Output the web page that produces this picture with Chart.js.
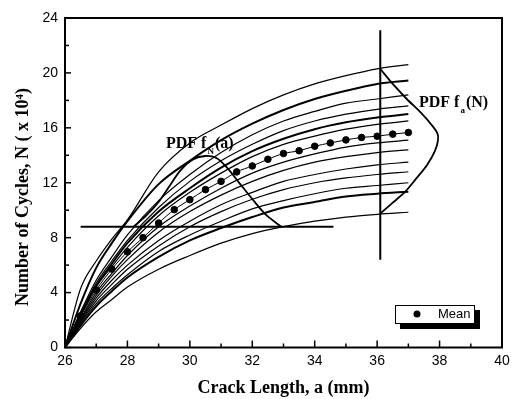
<!DOCTYPE html>
<html>
<head>
<meta charset="utf-8">
<script src="https://cdn.jsdelivr.net/npm/chart.js@4/dist/chart.umd.min.js"></script>
<style>
html,body{margin:0;padding:0;background:#fff;}
#wrap{width:516px;height:399px;}
</style>
</head>
<body>
<div id="wrap"><canvas id="c" width="516" height="399"></canvas></div>
<script>
// crack length grid (mm) shared by the individual sample curves
const xs = [26, 26.5, 27, 27.5, 28, 29, 30, 31, 32, 33, 34, 35, 36, 37];
// number of cycles (x 10^4) for each sample curve
const curveA = [0, 4.3, 6.3, 7.9, 9.3, 12.8, 14.9, 16.2, 17.4, 18.4, 19.2, 19.8, 20.3, 20.6];
const curveB = [0, 3.2, 5.8, 7.6, 9.2, 11.9, 13.6, 15.1, 16.3, 17.3, 18.1, 18.7, 19.2, 19.45];
const curveC = [0, 2.6, 4.9, 6.6, 8.2, 10.7, 12.6, 14.2, 15.5, 16.5, 17.2, 17.8, 18.1, 18.4];
const curveD = [0, 2.5, 4.7, 6.3, 7.8, 10.2, 12.1, 13.6, 14.8, 15.8, 16.5, 17.0, 17.35, 17.6];
const curveE = [0, 2.4, 4.5, 6.1, 7.6, 9.9, 11.6, 13.1, 14.3, 15.2, 15.9, 16.4, 16.75, 17.0];
const curveF = [0, 2.3, 4.4, 5.9, 7.3, 9.6, 11.3, 12.7, 13.9, 14.8, 15.4, 15.9, 16.25, 16.5];
const curveG = [0, 2.1, 4.0, 5.4, 6.7, 8.8, 10.3, 11.6, 12.7, 13.5, 14.1, 14.6, 14.9, 15.1];
const curveH = [0, 2.0, 3.8, 5.2, 6.4, 8.4, 9.9, 11.1, 12.1, 12.9, 13.5, 13.9, 14.2, 14.4];
const curveI = [0, 1.9, 3.6, 4.9, 6.0, 7.8, 9.2, 10.4, 11.3, 12.1, 12.6, 13.0, 13.3, 13.5];
const curveJ = [0, 1.8, 3.4, 4.6, 5.7, 7.4, 8.8, 9.9, 10.8, 11.5, 12.0, 12.35, 12.6, 12.8];
const curveK = [0, 1.7, 3.2, 4.3, 5.3, 7.0, 8.2, 9.2, 10.1, 10.7, 11.2, 11.6, 11.8, 12.0];
const curveL = [0, 1.6, 3.0, 4.1, 5.1, 6.6, 7.8, 8.7, 9.5, 10.2, 10.6, 11.0, 11.2, 11.35];
const curveM = [0, 1.4, 2.6, 3.5, 4.4, 5.7, 6.7, 7.6, 8.3, 8.8, 9.2, 9.5, 9.7, 9.85];
const thickCurves = ['B', 'E', 'L'];

// mean curve
const meanX = [26.5, 27, 27.5, 28, 28.5, 29, 29.5, 30, 30.5, 31, 31.5, 32, 32.5, 33, 33.5, 34, 34.5, 35, 35.5, 36, 36.5, 37];
const meanY = [2.3, 4.18, 5.71, 6.97, 8.0, 9.07, 10.04, 10.77, 11.5, 12.1, 12.79, 13.22, 13.71, 14.13, 14.33, 14.66, 14.9, 15.12, 15.3, 15.39, 15.54, 15.66];

// PDF f_a(N) drawn sideways at a = 36.1
const pdfAx = [36.1, 36.5, 36.95, 37.4, 37.75, 37.93, 37.95, 37.85, 37.6, 37.25, 36.9, 36.5, 36.1];
const pdfAy = [20.3, 19.2, 18.1, 17.1, 16.2, 15.6, 15.1, 14.3, 13.3, 12.3, 11.35, 10.55, 9.76];
const vLineX = [36.1, 36.1];
const vLineY = [6.4, 23.1];

// PDF f_N(a) drawn above N = 8.8
const pdfNx = [28.2, 28.6, 29.0, 29.3, 29.7, 30.1, 30.5, 30.85, 31.17, 31.6, 32.03, 32.45, 32.93];
const pdfNy = [8.8, 9.6, 10.6, 11.6, 12.9, 13.7, 13.95, 13.8, 13.15, 11.94, 10.73, 9.64, 8.8];
const hLineX = [26.5, 34.6];
const hLineY = [8.8, 8.8];

// axis ticks
const xMin = 26, xMax = 40, xStep = 2, xMinorStep = 1;
const yMin = 0, yMax = 24, yStep = 4, yMinorStep = 2;

const curves = {A: curveA, B: curveB, C: curveC, D: curveD, E: curveE, F: curveF, G: curveG,
  H: curveH, I: curveI, J: curveJ, K: curveK, L: curveL, M: curveM};

const pts = (X, Y) => X.map((x, i) => ({x: x, y: Y[i]}));

const datasets = [];
Object.keys(curves).forEach(k => {
  datasets.push({
    label: 'sample ' + k,
    data: pts(xs, curves[k]),
    showLine: true, borderColor: '#000', borderWidth: thickCurves.includes(k) ? 2 : 1.2,
    pointRadius: 0, cubicInterpolationMode: 'monotone', fill: false
  });
});
datasets.push({label: 'Mean', data: pts(meanX, meanY), showLine: true, borderColor: '#000',
  borderWidth: 1, pointRadius: 3.3, pointBackgroundColor: '#000', pointBorderColor: '#000',
  cubicInterpolationMode: 'monotone'});
datasets.push({label: 'pdfA', data: pts(pdfAx, pdfAy), showLine: true, borderColor: '#000',
  borderWidth: 1.8, pointRadius: 0, tension: 0.3});
datasets.push({label: 'vline', data: pts(vLineX, vLineY), showLine: true, borderColor: '#000',
  borderWidth: 2, pointRadius: 0});
datasets.push({label: 'pdfN', data: pts(pdfNx, pdfNy), showLine: true, borderColor: '#000',
  borderWidth: 1.8, pointRadius: 0, tension: 0.3});
datasets.push({label: 'hline', data: pts(hLineX, hLineY), showLine: true, borderColor: '#000',
  borderWidth: 2, pointRadius: 0});

const SERIF = '"Liberation Serif", "Times New Roman", serif';
const SANS = '"Liberation Sans", Arial, sans-serif';

const decor = {
  id: 'decor',
  afterDraw(chart) {
    const ctx = chart.ctx, a = chart.chartArea;
    const sx = chart.scales.x, sy = chart.scales.y;
    ctx.save();
    // frame
    ctx.strokeStyle = '#000'; ctx.lineWidth = 2;
    ctx.strokeRect(a.left, a.top, a.right - a.left, a.bottom - a.top);
    // inward ticks
    ctx.lineWidth = 1.5;
    for (let v = xMin; v <= xMax; v += xMinorStep) {
      const p = sx.getPixelForValue(v);
      const len = (v - xMin) % xStep === 0 ? 7 : 4;
      ctx.beginPath(); ctx.moveTo(p, a.bottom); ctx.lineTo(p, a.bottom - len); ctx.stroke();
    }
    for (let v = yMin; v <= yMax; v += yMinorStep) {
      const p = sy.getPixelForValue(v);
      const len = (v - yMin) % yStep === 0 ? 6 : 4;
      ctx.beginPath(); ctx.moveTo(a.left, p); ctx.lineTo(a.left + len, p); ctx.stroke();
    }
    // y-axis title
    ctx.fillStyle = '#000';
    ctx.save();
    ctx.translate(28, 197);
    ctx.rotate(-Math.PI / 2);
    ctx.font = 'bold 18px ' + SERIF;
    ctx.textAlign = 'center'; ctx.textBaseline = 'alphabetic';
    ctx.fillText('Number of Cycles, N ( x 10\u2074)', 0, 0);
    ctx.restore();
    // PDF labels
    const label = (x, y, main, sub, tail) => {
      ctx.font = 'bold 16px ' + SERIF; ctx.textAlign = 'left'; ctx.textBaseline = 'alphabetic';
      ctx.fillText(main, x, y);
      let w = ctx.measureText(main).width;
      ctx.font = 'bold 9px ' + SERIF;
      ctx.fillText(sub, x + w + 1, y + 6);
      const ws = ctx.measureText(sub).width;
      ctx.font = 'bold 16px ' + SERIF;
      ctx.fillText(tail, x + w + ws + 2, y);
    };
    label(166, 148, 'PDF f', 'N', '(a)');
    label(419, 107, 'PDF f', 'a', '(N)');
    // legend box with shadow
    const lx = a.right - 107, ly = a.bottom - 42.5, lw = 79, lh = 18;
    ctx.fillStyle = '#000';
    ctx.fillRect(lx + 5, ly + 5, lw + 1, lh + 1);
    ctx.fillStyle = '#fff';
    ctx.fillRect(lx, ly, lw, lh);
    ctx.lineWidth = 1; ctx.strokeStyle = '#000';
    ctx.strokeRect(lx + 0.5, ly + 0.5, lw, lh);
    ctx.fillStyle = '#000';
    ctx.beginPath(); ctx.arc(lx + 22, ly + 9, 3.5, 0, Math.PI * 2); ctx.fill();
    ctx.font = '13px ' + SANS; ctx.textBaseline = 'middle';
    ctx.fillText('Mean', lx + 43, ly + 9.5);
    ctx.restore();
  }
};

new Chart(document.getElementById('c'), {
  type: 'scatter',
  data: {datasets: datasets},
  options: {
    responsive: false, animation: false, devicePixelRatio: 1,
    layout: {padding: {top: 18, right: 14, left: 0, bottom: 0}},
    plugins: {legend: {display: false}, tooltip: {enabled: false}},
    scales: {
      x: {
        type: 'linear', min: xMin, max: xMax,
        grid: {display: false, drawTicks: false},
        border: {display: false},
        ticks: {stepSize: xStep, color: '#000', padding: 5, font: {family: SANS, size: 14}},
        title: {display: true, text: 'Crack Length, a (mm)', color: '#000',
          font: {family: SERIF, size: 18, weight: 'bold'}, padding: {top: 8, bottom: 0}},
        afterFit: s => { s.height = 51.5; }
      },
      y: {
        type: 'linear', min: yMin, max: yMax,
        grid: {display: false, drawTicks: false},
        border: {display: false},
        ticks: {stepSize: yStep, color: '#000', padding: 7, font: {family: SANS, size: 14}},
        afterFit: s => { s.width = 65; }
      }
    }
  },
  plugins: [decor]
});
</script>
</body>
</html>
